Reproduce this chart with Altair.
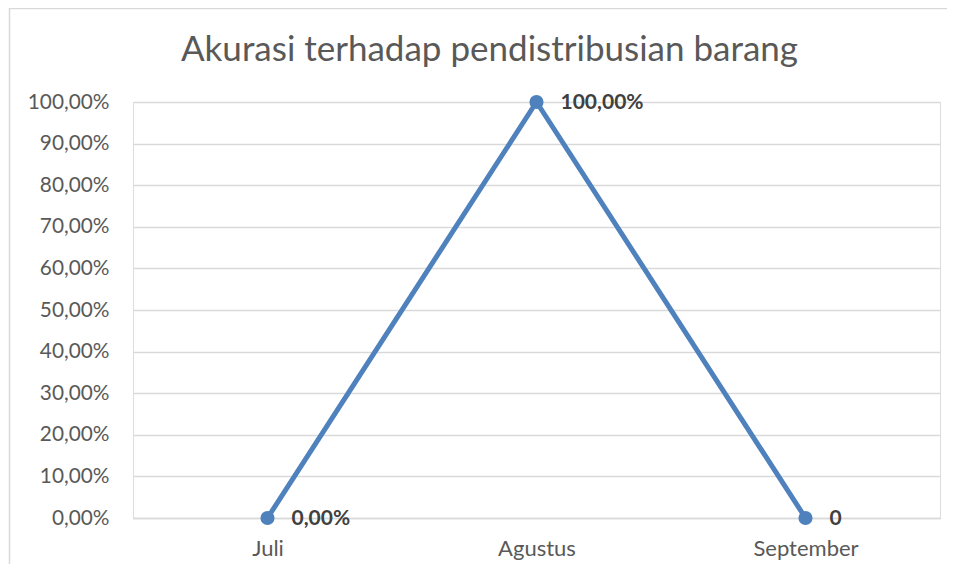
import altair as alt
import pandas as pd

months = ["Juli", "Agustus", "September"]
values = [0.0, 1.0, 0.0]
point_labels = ["0,00%", "100,00%", "0"]
y_ticks = [0.0, 0.1, 0.2, 0.3, 0.4, 0.5, 0.6, 0.7, 0.8, 0.9, 1.0]
title_text = "Akurasi terhadap pendistribusian barang"

df = pd.DataFrame({"bulan": months, "nilai": values, "label": point_labels})

FONT = "Lato"
BLUE = "#4F81BD"

base = alt.Chart(df).encode(
    x=alt.X("bulan:N", sort=months, title=None,
            scale=alt.Scale(paddingInner=0, paddingOuter=0, align=0.5),
            axis=alt.Axis(labelAngle=0, ticks=False, domain=True, domainColor="#d9d9d9",
                          domainWidth=1.5, labelFont=FONT, labelFontSize=22,
                          labelColor="#595959", labelPadding=20, grid=False)),
    y=alt.Y("nilai:Q", title=None,
            scale=alt.Scale(domain=[0, 1], nice=False),
            axis=alt.Axis(values=y_ticks, ticks=False, domain=False, gridColor="#d9d9d9",
                          gridWidth=1.5, labelFont=FONT, labelFontSize=20.8,
                          labelColor="#595959", labelPadding=24,
                          labelExpr="replace(format(datum.value, '.2%'), '.', ',')")),
)

line = base.mark_line(color=BLUE, strokeWidth=5)
pts = base.mark_point(color=BLUE, filled=True, opacity=1, size=200)
txt = base.mark_text(align="left", baseline="middle", dx=24, dy=1, font=FONT,
                     fontSize=21, fontWeight="bold", color="#404040").encode(text="label:N")

single = pd.DataFrame({"t": [title_text]})
title = alt.Chart(single).mark_text(font=FONT, fontSize=35, color="#595959",
                                    align="center", baseline="alphabetic").encode(
    x=alt.value(356.5), y=alt.value(-41), text="t:N")

left_border = alt.Chart(single).mark_rule(color="#d9d9d9", strokeWidth=1.5).encode(
    x=alt.value(-123.5), y=alt.value(-94), y2=alt.value(470))
top_border = alt.Chart(single).mark_rule(color="#d9d9d9", strokeWidth=1.5).encode(
    x=alt.value(-123.5), x2=alt.value(814), y=alt.value(-93.5))

chart = alt.layer(left_border, top_border, title, line, pts, txt).properties(
    width=807, height=416,
    autosize=alt.AutoSizeParams(type="none"),
    padding={"left": 125, "top": 94, "right": 7, "bottom": 46},
).configure_view(strokeWidth=0, stroke="transparent").configure(background="white")

chart.save("out.html", embed_options={"renderer": "svg", "actions": False})
